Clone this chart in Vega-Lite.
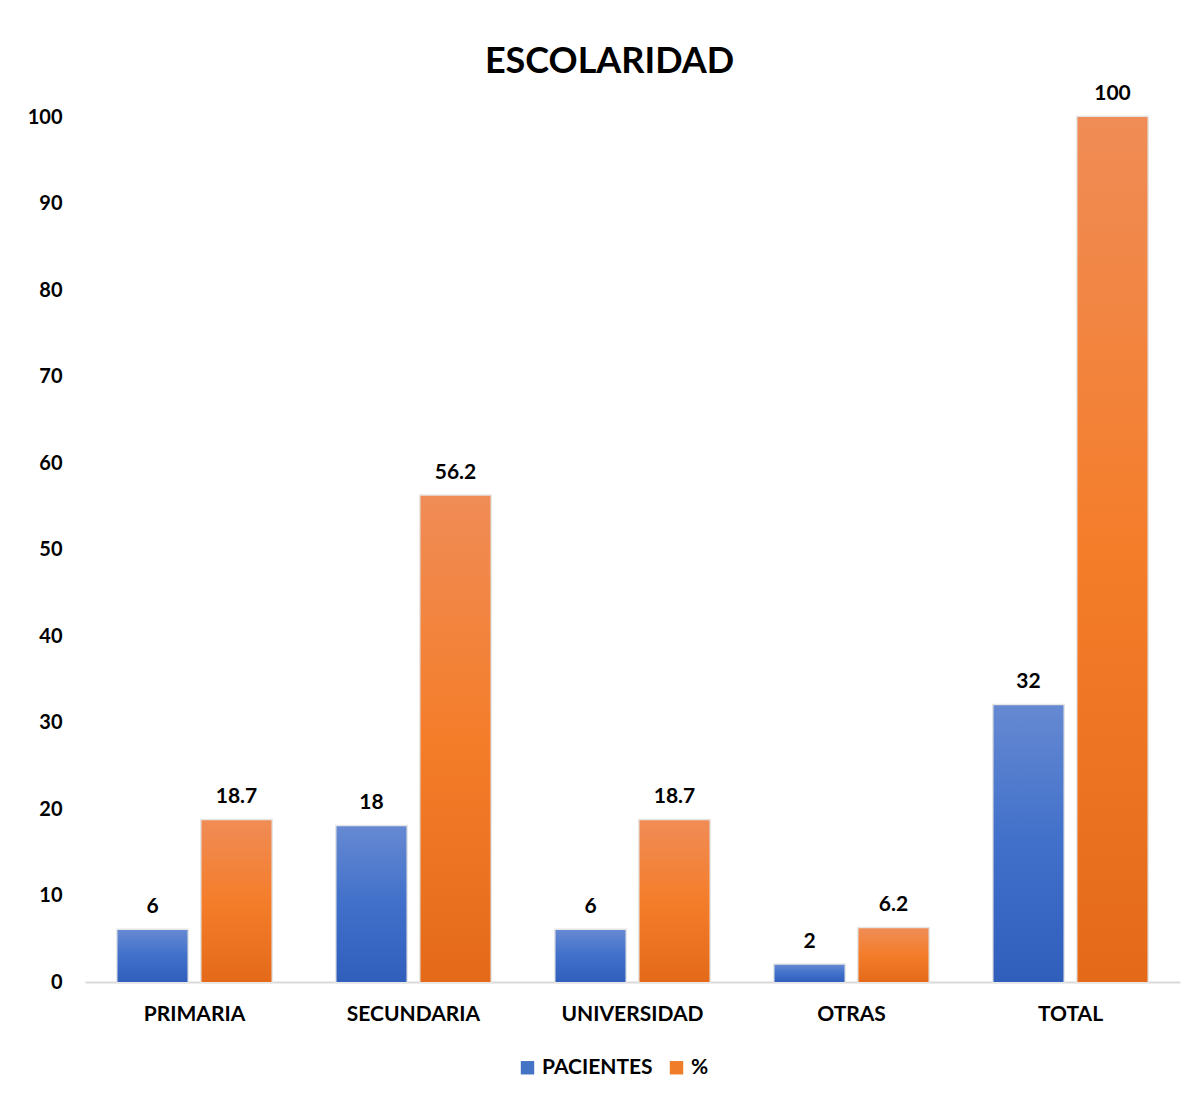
{
  "$schema": "https://vega.github.io/schema/vega-lite/v6.json",
  "autosize": "none",
  "width": 1095,
  "height": 865,
  "padding": {"left": 85, "top": 117, "right": 15, "bottom": 115},
  "background": "white",
  "title": {
    "text": "ESCOLARIDAD",
    "font": "Lato",
    "fontSize": 36,
    "fontWeight": "bold",
    "color": "#000000",
    "anchor": "middle",
    "dx": -23,
    "offset": 2
  },
  "config": {
    "view": {"stroke": null},
    "font": "Lato"
  },
  "data": {
    "values": [
      {"cat": "PRIMARIA", "serie": "PACIENTES", "valor": 6},
      {"cat": "PRIMARIA", "serie": "%", "valor": 18.7},
      {"cat": "SECUNDARIA", "serie": "PACIENTES", "valor": 18},
      {"cat": "SECUNDARIA", "serie": "%", "valor": 56.2},
      {"cat": "UNIVERSIDAD", "serie": "PACIENTES", "valor": 6},
      {"cat": "UNIVERSIDAD", "serie": "%", "valor": 18.7},
      {"cat": "OTRAS", "serie": "PACIENTES", "valor": 2},
      {"cat": "OTRAS", "serie": "%", "valor": 6.2},
      {"cat": "TOTAL", "serie": "PACIENTES", "valor": 32},
      {"cat": "TOTAL", "serie": "%", "valor": 100}
    ]
  },
  "encoding": {
    "x": {
      "field": "cat",
      "type": "nominal",
      "sort": ["PRIMARIA", "SECUNDARIA", "UNIVERSIDAD", "OTRAS", "TOTAL"],
      "scale": {"paddingInner": 0, "paddingOuter": 0},
      "axis": {
        "title": null,
        "labelAngle": 0,
        "labelFont": "Lato",
        "labelFontSize": 21,
        "labelFontWeight": "bold",
        "labelColor": "#000000",
        "labelPadding": 21,
        "ticks": false,
        "domainColor": "#d9d9d9",
        "domainWidth": 2
      }
    },
    "xOffset": {
      "field": "serie",
      "type": "nominal",
      "scale": {"domain": ["PACIENTES", "%"], "paddingInner": 0.1667, "paddingOuter": 0.387}
    },
    "y": {
      "field": "valor",
      "type": "quantitative",
      "scale": {"domain": [0, 100], "nice": false},
      "axis": {
        "title": null,
        "values": [0, 10, 20, 30, 40, 50, 60, 70, 80, 90, 100],
        "grid": false,
        "domain": false,
        "ticks": false,
        "labelFont": "Lato",
        "labelFontSize": 20,
        "labelFontWeight": "bold",
        "labelColor": "#000000",
        "labelPadding": 23
      }
    }
  },
  "layer": [
    {
      "mark": {"type": "bar", "stroke": "#e6e6e6", "strokeWidth": 3},
      "encoding": {
        "color": {
          "field": "serie",
          "type": "nominal",
          "scale": {"domain": ["PACIENTES", "%"], "range": ["#4472c4", "#f07d2a"]},
          "legend": {
            "title": null,
            "orient": "none",
            "legendX": 432,
            "legendY": 940,
            "direction": "horizontal",
            "symbolType": "square",
            "symbolSize": 180,
            "symbolStrokeWidth": 0,
            "labelFont": "Lato",
            "labelFontSize": 21,
            "labelFontWeight": "bold",
            "labelColor": "#000000",
            "labelOffset": 4,
            "columnPadding": 13
          }
        }
      }
    },
    {
      "transform": [{"filter": "datum.serie === 'PACIENTES'"}],
      "mark": {
        "type": "bar",
        "fill": {
          "gradient": "linear", "x1": 0, "y1": 0, "x2": 0, "y2": 1,
          "stops": [
            {"offset": 0, "color": "#6689d2"},
            {"offset": 0.5, "color": "#4070ca"},
            {"offset": 1, "color": "#2f5fbb"}
          ]
        }
      }
    },
    {
      "transform": [{"filter": "datum.serie === '%'"}],
      "mark": {
        "type": "bar",
        "fill": {
          "gradient": "linear", "x1": 0, "y1": 0, "x2": 0, "y2": 1,
          "stops": [
            {"offset": 0, "color": "#f08c56"},
            {"offset": 0.5, "color": "#f47d2a"},
            {"offset": 1, "color": "#e46a19"}
          ]
        }
      }
    },
    {
      "mark": {
        "type": "text",
        "baseline": "alphabetic",
        "dy": -17,
        "font": "Lato",
        "fontSize": 21,
        "fontWeight": "bold",
        "color": "#000000"
      },
      "encoding": {
        "text": {"field": "valor", "type": "quantitative"}
      }
    }
  ]
}
